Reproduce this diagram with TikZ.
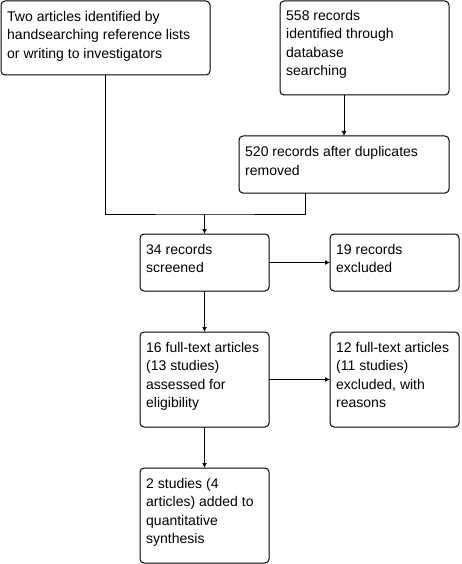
\documentclass[tikz,border=0pt]{standalone}
\usepackage{fontspec}
\setmainfont{Liberation Sans}
\usetikzlibrary{arrows.meta,calc}
\begin{document}
\begin{tikzpicture}[x=1pt,y=-1pt,
  box/.style={draw=black, line width=1pt, rounded corners=4pt, inner sep=0pt, outer sep=0pt, anchor=north west},
  txt/.style={anchor=north west, inner sep=0pt, align=left, font=\fontsize{14}{18.5}\selectfont},
  conn/.style={draw=black, line width=1pt},
  arr/.style={conn, -{Latex[length=5pt,width=5pt]}}]
\useasboundingbox (0,0) rectangle (462,564);
\fill[white] (0,0) rectangle (462,564);
% boxes
\node[box, minimum width=209pt, minimum height=74pt] (A) at (1,1) {};
\node[box, minimum width=169pt, minimum height=94pt] (B) at (280,1) {};
\node[box, minimum width=210pt, minimum height=57pt] (C) at (239,136) {};
\node[box, minimum width=129pt, minimum height=57pt] (D) at (140,234) {};
\node[box, minimum width=129pt, minimum height=57pt] (E) at (330,234) {};
\node[box, minimum width=129pt, minimum height=95pt] (F) at (140,332) {};
\node[box, minimum width=129pt, minimum height=95pt] (G) at (330,332) {};
\node[box, minimum width=129pt, minimum height=95pt] (H) at (140,468) {};
% texts
\newcommand{\fl}{\rule{0pt}{12pt}}
\node[txt] (tA) at ($(A.north west)+(6,8)$) {\fl Two articles identified by\\handsearching reference lists\\or writing to investigators};
\node[txt] (tB) at ($(B.north west)+(6,7)$) {\fl 558 records\\identified through\\database\\searching};
\node[txt] (tC) at ($(C.north west)+(6,8.5)$) {\fl 520 records after duplicates\\removed};
\node[txt] (tD) at ($(D.north west)+(6,8)$) {\fl 34 records\\screened};
\node[txt] (tE) at ($(E.north west)+(6,8)$) {\fl 19 records\\excluded};
\node[txt] (tF) at ($(F.north west)+(6,8)$) {\fl 16 full-text articles\\(13 studies)\\assessed for\\eligibility};
\node[txt] (tG) at ($(G.north west)+(6,8)$) {\fl 12 full-text articles\\(11 studies)\\excluded, with\\reasons};
\node[txt] (tH) at ($(H.north west)+(6,8)$) {\fl 2 studies (4\\articles) added to\\quantitative\\synthesis};
% connectors
\coordinate (J) at (D.north |- 0,214);
\coordinate (Cs) at ($(C.south west)+(66,0)$);
\draw[conn] (A.south) |- (J) -| (Cs);
\draw[arr] (J) -- (D.north);
\draw[arr] (B.south -| C.north) -- (C.north);
\draw[arr] (D.east) -- (E.west);
\draw[arr] (D.south) -- (F.north);
\draw[arr] (F.east) -- (G.west);
\draw[arr] (F.south) -- (H.north);
\end{tikzpicture}
\end{document}
